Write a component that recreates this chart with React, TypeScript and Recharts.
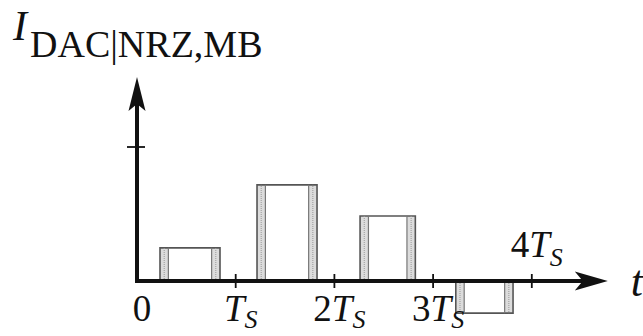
import React from 'react';
import { ComposedChart, XAxis, YAxis, ReferenceArea, ReferenceLine, ReferenceDot } from 'recharts';

// pulse data (time in units of T_S, level in arbitrary current units)
const pulseStart = [0.233, 1.216, 2.26, 3.23];
const pulseEnd = [0.841, 1.824, 2.82, 3.81];
const pulseLevel = [0.99, 2.87, 1.94, -0.96];
const edgeJitter = 0.085;

// axes
const xTicks = [0, 1, 2, 3, 4];
const xTickPrefix = ['0', '', '2', '3', '4'];
const yTicks = [4];
const xAxisEnd = 4.77;
const yAxisEnd = 6.09;

// labels
const yLabelMain = 'I';
const yLabelSub = 'DAC|NRZ,MB';
const xLabel = 't';
const periodSymbol = 'T';
const periodSub = 'S';

const FONT = '"Liberation Serif", "DejaVu Serif", "Times New Roman", serif';

const data = pulseStart.map((s, i) => ({ x: s, y: pulseLevel[i] }));

const XArrow = (props: any) => {
  const { cx, cy } = props;
  return (
    <polygon
      points={`${cx},${cy} ${cx - 33},${cy - 9.5} ${cx - 25},${cy} ${cx - 33},${cy + 9.5}`}
      fill="#111"
    />
  );
};

const YArrow = (props: any) => {
  const { cx, cy } = props;
  return (
    <polygon
      points={`${cx},${cy} ${cx - 8.5},${cy + 34} ${cx},${cy + 27} ${cx + 8.5},${cy + 34}`}
      fill="#111"
    />
  );
};

const makeXTick = (i: number) => (props: any) => {
  const { cx, cy } = props;
  const k = xTicks[i];
  const above = i === xTicks.length - 1;
  return (
    <g>
      {k !== 0 && <line x1={cx} y1={cy - 7} x2={cx} y2={cy + 7} stroke="#111" strokeWidth={1.8} />}
      <text
        x={cx + 5}
        y={above ? cy - 24 : cy + 40}
        textAnchor="middle"
        fontFamily={FONT}
        fontSize={37}
        fill="#111"
      >
        <tspan>{xTickPrefix[i]}</tspan>
        {k !== 0 && <tspan fontStyle="italic">{periodSymbol}</tspan>}
        {k !== 0 && (
          <tspan fontStyle="italic" fontSize={26} dy={above ? 9 : 7}>
            {periodSub}
          </tspan>
        )}
      </text>
    </g>
  );
};

const YTick = (props: any) => {
  const { cx, cy } = props;
  return <line x1={cx - 10} y1={cy} x2={cx + 8} y2={cy} stroke="#111" strokeWidth={1.8} />;
};

const YTitle = (props: any) => {
  const { cx, cy } = props;
  return (
    <text x={cx - 124} y={cy - 37} fontFamily={FONT} fill="#111">
      <tspan fontStyle="italic" fontSize={42}>{yLabelMain}</tspan>
      <tspan fontSize={38} dx={3} dy={17}>{yLabelSub}</tspan>
    </text>
  );
};

const XTitle = (props: any) => {
  const { cx, cy } = props;
  return (
    <text x={cx + 23} y={cy + 15} fontFamily={FONT} fontStyle="italic" fontSize={44} fill="#111">
      {xLabel}
    </text>
  );
};

export default function App() {
  return (
    <div style={{ position: 'absolute', left: 0, top: 0, width: 643, height: 336, background: '#fff' }}>
      <ComposedChart
        width={643}
        height={336}
        data={data}
        margin={{ top: 63.25, right: 12.5, bottom: 4.75, left: 137 }}
      >
        <XAxis type="number" dataKey="x" domain={[0, 5]} hide allowDataOverflow />
        <YAxis type="number" dataKey="y" domain={[-1.5, 6.5]} hide allowDataOverflow />

        {pulseStart.map((s, i) => (
          <ReferenceArea
            key={`bl${i}`}
            x1={s}
            x2={s + edgeJitter}
            y1={0}
            y2={pulseLevel[i]}
            fill="#dcdcdc"
            fillOpacity={1}
            stroke="none"
            ifOverflow="visible"
          />
        ))}
        {pulseEnd.map((e, i) => (
          <ReferenceArea
            key={`br${i}`}
            x1={e - edgeJitter}
            x2={e}
            y1={0}
            y2={pulseLevel[i]}
            fill="#dcdcdc"
            fillOpacity={1}
            stroke="none"
            ifOverflow="visible"
          />
        ))}
        {pulseStart.map((s, i) => (
          <ReferenceArea
            key={`p${i}`}
            x1={s}
            x2={pulseEnd[i]}
            y1={0}
            y2={pulseLevel[i]}
            fill="none"
            fillOpacity={0}
            stroke="#555"
            strokeWidth={1.6}
            ifOverflow="visible"
          />
        ))}
        {pulseStart.map((s, i) => (
          <ReferenceLine
            key={`il${i}`}
            segment={[{ x: s + edgeJitter, y: 0 }, { x: s + edgeJitter, y: pulseLevel[i] }]}
            stroke="#777"
            strokeWidth={1.2}
            ifOverflow="visible"
          />
        ))}
        {pulseEnd.map((e, i) => (
          <ReferenceLine
            key={`ir${i}`}
            segment={[{ x: e - edgeJitter, y: 0 }, { x: e - edgeJitter, y: pulseLevel[i] }]}
            stroke="#777"
            strokeWidth={1.2}
            ifOverflow="visible"
          />
        ))}
        {pulseStart.map((s, i) => (
          <ReferenceLine
            key={`ml${i}`}
            segment={[{ x: s + edgeJitter / 2, y: 0 }, { x: s + edgeJitter / 2, y: pulseLevel[i] }]}
            stroke="#999"
            strokeWidth={1}
            strokeDasharray="1 1"
            ifOverflow="visible"
          />
        ))}
        {pulseEnd.map((e, i) => (
          <ReferenceLine
            key={`mr${i}`}
            segment={[{ x: e - edgeJitter / 2, y: 0 }, { x: e - edgeJitter / 2, y: pulseLevel[i] }]}
            stroke="#999"
            strokeWidth={1}
            strokeDasharray="1 1"
            ifOverflow="visible"
          />
        ))}

        {/* axes */}
        <ReferenceLine
          segment={[{ x: -0.02, y: 0 }, { x: xAxisEnd - 0.2, y: 0 }]}
          stroke="#111"
          strokeWidth={4}
          ifOverflow="visible"
        />
        <ReferenceLine
          segment={[{ x: 0, y: -0.06 }, { x: 0, y: yAxisEnd - 0.6 }]}
          stroke="#111"
          strokeWidth={4}
          ifOverflow="visible"
        />
        <ReferenceDot x={xAxisEnd} y={0} r={0} shape={XArrow} ifOverflow="visible" />
        <ReferenceDot x={0} y={yAxisEnd} r={0} shape={YArrow} ifOverflow="visible" />
        <ReferenceDot x={0} y={yAxisEnd} r={0} shape={YTitle} ifOverflow="visible" />
        <ReferenceDot x={xAxisEnd} y={0} r={0} shape={XTitle} ifOverflow="visible" />
        {yTicks.map((v, i) => (
          <ReferenceDot key={`yt${i}`} x={0} y={v} r={0} shape={YTick} ifOverflow="visible" />
        ))}
        {xTicks.map((v, i) => (
          <ReferenceDot key={`xt${i}`} x={v} y={0} r={0} shape={makeXTick(i)} ifOverflow="visible" />
        ))}
      </ComposedChart>
    </div>
  );
}
